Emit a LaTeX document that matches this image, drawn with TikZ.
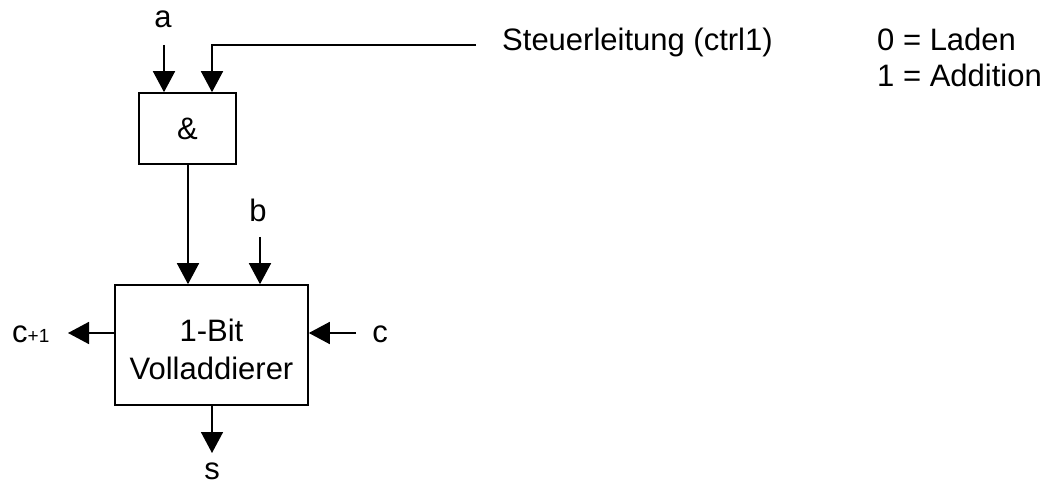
\documentclass[tikz,border=0pt]{standalone}
\usepackage{fontspec}
\setmainfont{Liberation Sans}
\usetikzlibrary{arrows.meta}
\begin{document}
\begin{tikzpicture}[x=1pt,y=-1pt,
  wire/.style={line width=1.6pt},
  sig/.style={wire,-{Triangle[length=21pt,width=22pt]}},
  block/.style={draw,line width=1.6pt,inner sep=0pt,font=\fontsize{31}{38}\selectfont},
  txt/.style={inner sep=0pt,anchor=base,font=\fontsize{31}{38}\selectfont}]
\useasboundingbox (0,0) rectangle (1052,486);

% blocks
\node[block,minimum width=97pt,minimum height=71pt] (and) at (187.5,128.5) {\&};
\node[block,minimum width=193pt,minimum height=120pt] (fa) at (211.5,345) {};
% two-line caption of the adder; base anchor sits on the last line
\node[txt,align=center] (faText) at (211.5,379) {1-Bit\\Volladdierer};

% signal labels
\node[txt] (a) at (163,28) {a};
\node[txt] (b) at (258,222) {b};
\node[txt] (c) at (380,342) {c};
\node[txt] (s) at (212,479) {s};
\node[txt,anchor=base west] (cout) at (12,342) {c{\fontsize{19}{22}\selectfont +1}};
\node[txt,anchor=base west] (ctrl) at (502,51) {Steuerleitung (ctrl1)};
\node[txt,anchor=base west] (l0) at (877,51) {0 = Laden};
\node[txt,anchor=base west] (l1) at (877,87) {1 = Addition};

% wire end points
\coordinate (aIn) at (164,45);
\coordinate (ctrlIn) at (476,45);
\coordinate (bIn) at (260,237);
\coordinate (cIn) at (356,333);
\coordinate (coutEnd) at (68,333);
\coordinate (sEnd) at (212,453);

% connections
\draw[sig] (aIn) -- (aIn |- and.north);
\draw[sig] (ctrlIn) -- (212,45) -- (212,45 |- and.north);
\draw[sig] (188,0 |- and.south) -- (188,0 |- fa.north);
\draw[sig] (bIn) -- (bIn |- fa.north);
\draw[sig] (cIn) -- (cIn -| fa.east);
\draw[sig] (coutEnd -| fa.west) -- (coutEnd);
\draw[sig] (sEnd |- fa.south) -- (sEnd);
\end{tikzpicture}
\end{document}
